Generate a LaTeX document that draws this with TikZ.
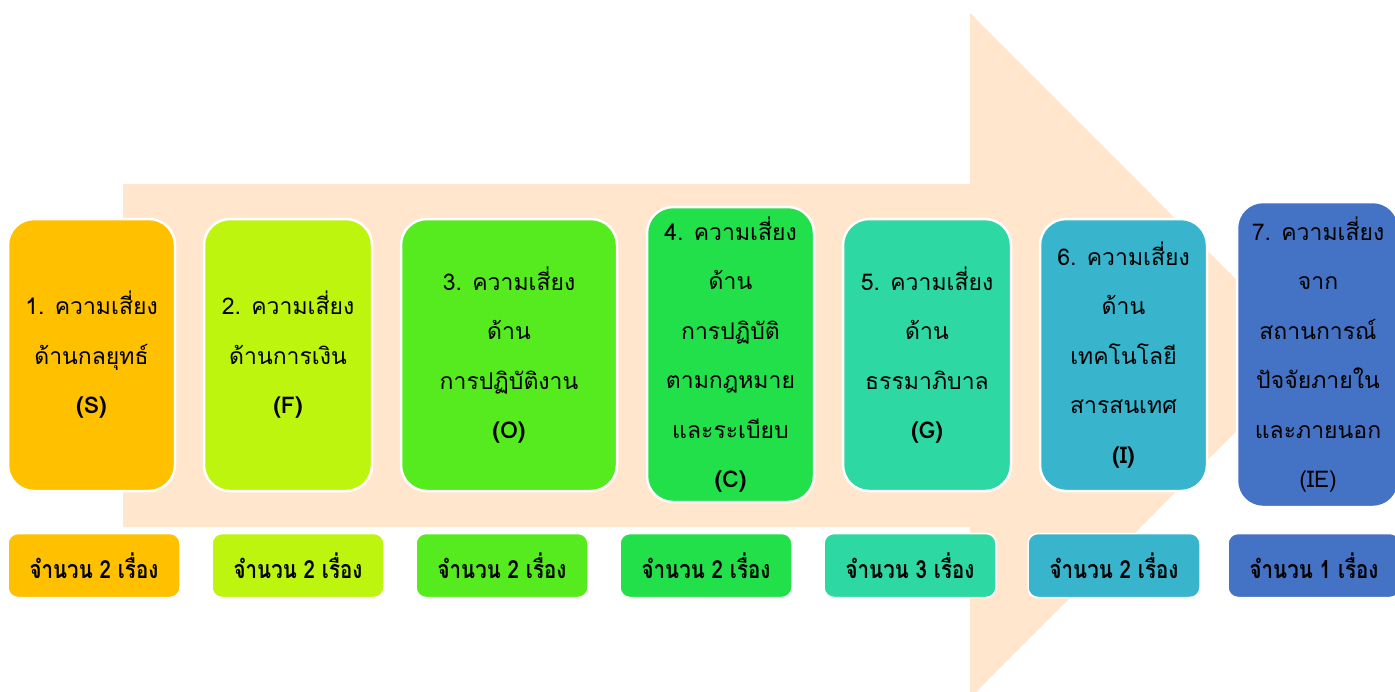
\documentclass[tikz,border=0pt]{standalone}
\usepackage{fontspec}
\newfontfamily\thai[Script=Thai]{Loma}
\newfontfamily\thaicond[Script=Thai,FakeStretch=0.82]{Loma}
\definecolor{peach}{HTML}{FFE6CC}
\definecolor{cS}{HTML}{FFC000}
\definecolor{cF}{HTML}{BEF50F}
\definecolor{cO}{HTML}{55EB1E}
\definecolor{cC}{HTML}{22E04A}
\definecolor{cG}{HTML}{2ED8A2}
\definecolor{cI}{HTML}{38B5CC}
\definecolor{cE}{HTML}{4472C4}
\tikzset{
  riskbox/.style={draw=white, line width=2.5pt, rounded corners=26pt, inner sep=0pt},
  risktext/.style={align=center, inner sep=0pt, text=black, font=\thai\fontsize{23}{49.5}\selectfont},
  countbox/.style={draw=white, line width=1.5pt, rounded corners=10pt, inner sep=0pt,
     minimum width=172pt, minimum height=64pt, text=black, font=\thaicond\bfseries\fontsize{25}{28}\selectfont}
}
\begin{document}
\begin{tikzpicture}[x=1pt,y=-1pt]
\useasboundingbox (0,0) rectangle (1395,691);
\clip (0,0) rectangle (1395,691);
% big arrow
\fill[peach] (123,184) -- (970,184) -- (970,13) -- (1312,355.5) -- (970,698) -- (970,527) -- (123,527) -- cycle;
% top boxes
\node[riskbox, fill=cS, minimum width=167pt, minimum height=272pt] (b1) at (91.5,355) {};
\node[riskbox, fill=cF, minimum width=168pt, minimum height=272pt] (b2) at (288,355) {};
\node[riskbox, fill=cO, minimum width=216pt, minimum height=272pt] (b3) at (509,355) {};
\node[riskbox, fill=cC, minimum width=167pt, minimum height=295pt] (b4) at (730.5,354.5) {};
\node[riskbox, fill=cG, minimum width=168pt, minimum height=272pt] (b5) at (927,355) {};
\node[riskbox, fill=cI, minimum width=167pt, minimum height=272pt] (b6) at (1123.5,355) {};
\node[riskbox, fill=cE, minimum width=162pt, minimum height=305pt] (b7) at (1318,354.5) {};
\node[risktext] (t1) at (b1) {1. ความเสี่ยง\\ด้านกลยุทธ์\\{\bfseries (S)}};
\node[risktext] (t2) at (b2) {2. ความเสี่ยง\\ด้านการเงิน\\{\bfseries (F)}};
\node[risktext] (t3) at (b3) {3. ความเสี่ยง\\ด้าน\\การปฏิบัติงาน\\{\bfseries (O)}};
\node[risktext] (t4) at (b4) {4. ความเสี่ยง\\ด้าน\\การปฏิบัติ\\ตามกฎหมาย\\และระเบียบ\\{\bfseries (C)}};
\node[risktext] (t5) at (b5) {5. ความเสี่ยง\\ด้าน\\ธรรมาภิบาล\\{\bfseries (G)}};
\node[risktext] (t6) at (b6) {6. ความเสี่ยง\\ด้าน\\เทคโนโลยี\\สารสนเทศ\\{\bfseries (I)}};
\node[risktext] (t7) at (b7) {7. ความเสี่ยง\\จาก\\สถานการณ์\\ปัจจัยภายใน\\และภายนอก\\(IE)};
% count labels
\node[countbox, fill=cS] (n1) at (94,565.5) {จำนวน 2 เรื่อง};
\node[countbox, fill=cF] (n2) at (298,565.5) {จำนวน 2 เรื่อง};
\node[countbox, fill=cO] (n3) at (502,565.5) {จำนวน 2 เรื่อง};
\node[countbox, fill=cC] (n4) at (706,565.5) {จำนวน 2 เรื่อง};
\node[countbox, fill=cG] (n5) at (910,565.5) {จำนวน 3 เรื่อง};
\node[countbox, fill=cI] (n6) at (1114,565.5) {จำนวน 2 เรื่อง};
\node[countbox, fill=cE] (n7) at (1314,565.5) {จำนวน 1 เรื่อง};
\end{tikzpicture}
\end{document}
